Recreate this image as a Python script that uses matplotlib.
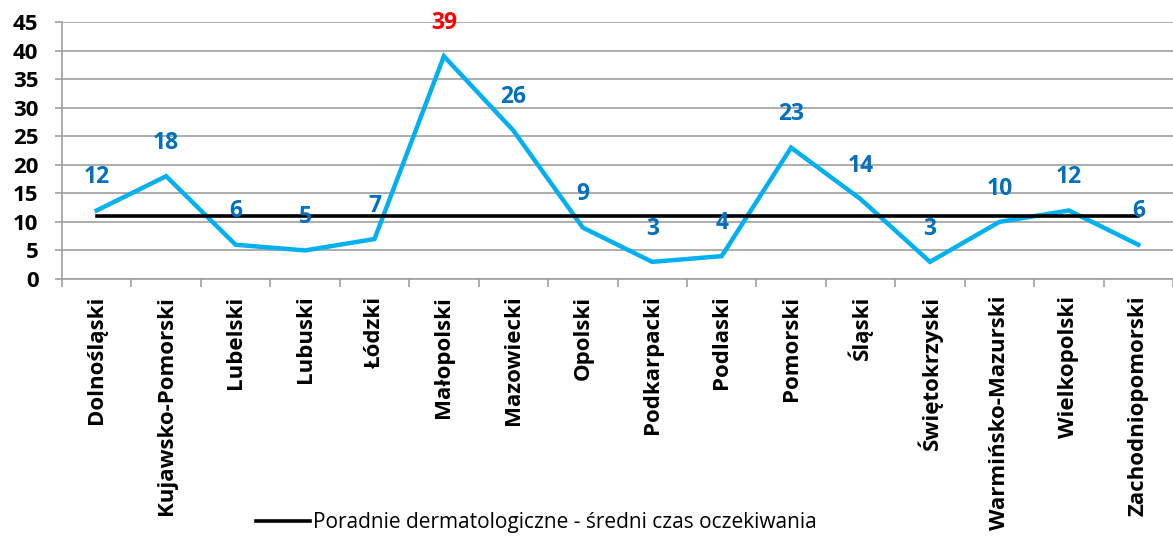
import matplotlib
matplotlib.use("Agg")
import matplotlib.pyplot as plt
import numpy as np

categories = ["Dolnośląski", "Kujawsko-Pomorski", "Lubelski", "Lubuski", "Łódzki",
              "Małopolski", "Mazowiecki", "Opolski", "Podkarpacki", "Podlaski",
              "Pomorski", "Śląski", "Świętokrzyski", "Warmińsko-Mazurski",
              "Wielkopolski", "Zachodniopomorski"]
values = [12, 18, 6, 5, 7, 39, 26, 9, 3, 4, 23, 14, 3, 10, 12, 6]
average = [11] * len(categories)
legend_label = "Poradnie dermatologiczne - średni czas oczekiwania"
yticks = [0, 5, 10, 15, 20, 25, 30, 35, 40, 45]

plt.rcParams['font.family'] = ['Open Sans', 'DejaVu Sans']

fig = plt.figure(figsize=(11.73, 5.37), dpi=100)
ax = fig.add_axes([62/1173, 1-279/537, 1-62/1173, (279-22)/537])

x = np.arange(len(categories))
ax.plot(x, values, color="#00B0F0", lw=3.2, solid_joinstyle="miter", zorder=3)
avg_line, = ax.plot(x, average, color="black", lw=2.6, zorder=4, label=legend_label)

imax = int(np.argmax(values))
for i, v in enumerate(values):
    ax.annotate(str(v), (i, v), xytext=(0, 24), textcoords="offset points",
                ha="center", va="center", fontsize=16.5, fontweight="bold",
                color="red" if i == imax else "#0070C0", zorder=5)

ax.set_xlim(-0.5, len(categories) - 0.5)
ax.set_ylim(0, 45)
ax.set_yticks(yticks)
ax.set_yticklabels([str(t) for t in yticks], fontsize=16, fontweight="bold")
ax.set_xticks(x)
ax.set_xticklabels(categories, rotation=90, fontsize=16, fontweight="bold")
ax.set_xticks(np.arange(-0.5, len(categories), 1), minor=True)
ax.tick_params(axis="x", which="major", length=0, pad=12)
ax.tick_params(axis="x", which="minor", length=6, color="#A0A0A0", width=1.2, direction="out")
ax.tick_params(axis="y", length=5, color="#A0A0A0", width=1.2, pad=12)

ax.grid(axis="y", color="#A6A6A6", lw=1.3, zorder=0)
for s in ["top", "right"]:
    ax.spines[s].set_visible(False)
for s in ["left", "bottom"]:
    ax.spines[s].set_color("#A0A0A0")
    ax.spines[s].set_linewidth(1.2)

fig.legend(handles=[avg_line], loc="center", bbox_to_anchor=(0.457, 0.027),
           frameon=False, fontsize=15, handlelength=2.6, handletextpad=0.15)

fig.savefig("out.png", dpi=100)
